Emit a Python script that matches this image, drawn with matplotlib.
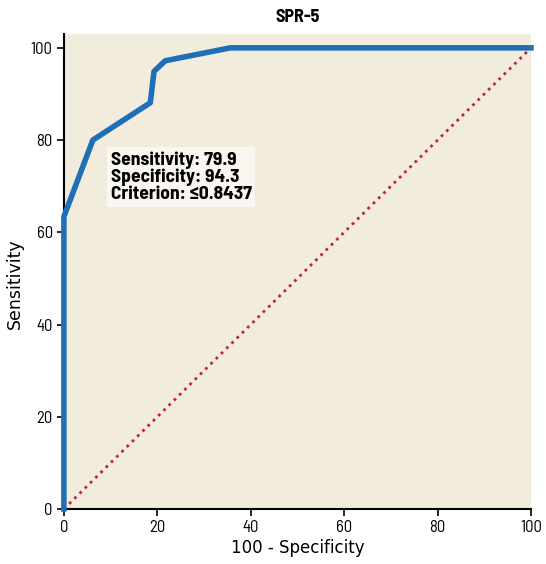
import matplotlib
matplotlib.use('Agg')
import matplotlib.pyplot as plt

# ROC curve points (100 - specificity, sensitivity)
fpr = [0, 0, 6.2, 18.5, 19.3, 21.7, 35.6, 100]
tpr = [0, 63.4, 80.0, 88.1, 94.9, 97.2, 100, 100]
diag = [0, 100]
ticks = [0, 20, 40, 60, 80, 100]
note = 'Sensitivity: 79.9\nSpecificity: 94.3\nCriterion: \u22640.8437'

narrow = ['Barlow Semi Condensed', 'PT Sans Narrow', 'DejaVu Sans']
plain = ['DejaVu Sans']

fig = plt.figure(figsize=(5.46, 5.64), dpi=100)
ax = fig.add_axes([0.117, 0.0975, 0.8555, 0.8422])
ax.set_facecolor('#f1ecdb')

ax.plot(diag, diag, color='#c0282d', linestyle=':', linewidth=2, zorder=2)
ax.plot(fpr, tpr, color='#1f6fb8', linewidth=4, zorder=3, clip_on=False)

ax.set_xlim(0, 100)
ax.set_ylim(0, 103)
ax.set_xticks(ticks)
ax.set_yticks(ticks)
for s in ['top', 'right']:
    ax.spines[s].set_visible(False)
for s in ['left', 'bottom']:
    ax.spines[s].set_linewidth(1.5)
ax.tick_params(direction='out', length=5, width=1.2, labelsize=12, pad=3)
for lab in ax.get_xticklabels() + ax.get_yticklabels():
    lab.set_family(narrow)

ax.set_xlabel('100 - Specificity', fontsize=12, family=plain, labelpad=3)
ax.set_ylabel('Sensitivity', fontsize=12.5, family=plain)
ax.yaxis.set_label_coords(-0.085, 0.475)
ax.set_title('SPR-5', fontsize=13, fontweight='bold', family=narrow, pad=9)

ax.text(10, 77.6, note, fontsize=14, fontweight='bold', family=narrow,
        va='top', ha='left', linespacing=1.0, zorder=4,
        bbox=dict(boxstyle='square,pad=0.2', facecolor='#f9f7f0', edgecolor='none'))

fig.savefig('out.png', dpi=100)
